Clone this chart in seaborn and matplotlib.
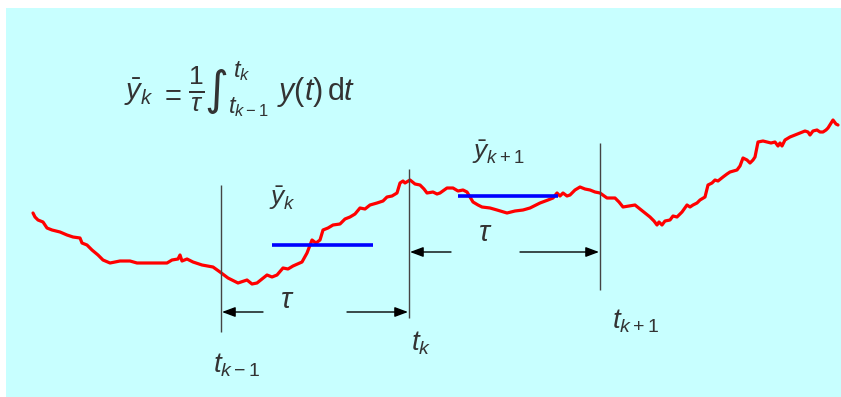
import matplotlib
matplotlib.use("Agg")
import matplotlib.pyplot as plt
import seaborn as sns
import pandas as pd

# curva do sinal y(t) (coordenadas, eixo y invertido)
curve_t = [33, 35, 38, 43, 47, 52, 60, 67, 73, 80, 82, 87, 92, 98, 103, 110, 120, 130, 137, 147,
           153, 160, 167, 172, 178, 180, 182, 187, 193, 202, 213, 220, 228, 238, 247, 252, 257, 262,
           267, 272, 277, 283, 288, 293, 302, 307, 312, 316, 320, 323, 328, 333, 340, 345, 350, 355,
           360, 365, 370, 377, 383, 387, 392, 397, 400, 403, 405, 410, 415, 420, 424, 427, 433, 437,
           440, 447, 453, 458, 463, 467, 473, 478, 482, 490, 497, 507, 515, 523, 530, 540, 548, 553,
           557, 560, 563, 567, 570, 575, 580, 585, 590, 595, 600, 607, 615, 619, 623, 629, 635, 640,
           645, 650, 654, 657, 659, 662, 665, 670, 673, 677, 682, 687, 690, 693, 697, 700, 705, 708,
           712, 715, 718, 723, 727, 730, 737, 740, 743, 747, 750, 753, 755, 758, 763, 767, 771, 775,
           778, 780, 782, 785, 790, 795, 800, 805, 808, 810, 813, 817, 820, 823, 826, 828, 833, 836,
           838]
curve_y = [213, 217, 220, 222, 228, 230, 232, 235, 237, 238, 243, 245, 250, 255, 260, 263, 261, 261, 263, 263,
           263, 263, 263, 260, 259, 255, 261, 259, 262, 265, 267, 272, 278, 283, 280, 284, 283, 279,
           275, 277, 275, 268, 269, 266, 262, 253, 240, 243, 240, 230, 228, 225, 224, 219, 217, 214,
           208, 209, 205, 203, 201, 197, 196, 193, 183, 181, 183, 180, 184, 185, 189, 193, 192, 194,
           193, 188, 188, 191, 190, 192, 202, 205, 207, 208, 210, 213, 211, 210, 208, 203, 200, 198,
           193, 196, 193, 196, 195, 190, 187, 189, 190, 192, 193, 198, 198, 202, 207, 206, 205, 209,
           213, 217, 221, 225, 222, 225, 221, 220, 216, 217, 212, 205, 207, 205, 203, 200, 197, 185,
           183, 180, 181, 177, 174, 172, 170, 166, 158, 160, 163, 160, 157, 142, 141, 142, 143, 142,
           146, 143, 146, 140, 137, 135, 133, 131, 132, 135, 131, 130, 132, 132, 130, 128, 120, 124,
           125]

# instantes de amostragem e extensao das linhas verticais
sample_t = [221, 409, 600]
sample_top = [185, 169, 143]
sample_bottom = [332, 318, 290]
sample_labels = [r"$t_{k-1}$", r"$t_k$", r"$t_{k+1}$"]
label_pos = [(237, 365), (421, 343), (636, 321)]

# medias (barras azuis)
mean_start = [272, 458]
mean_end = [373, 558]
mean_value = [245, 196]
mean_labels = [r"$\bar{y}_k$", r"$\bar{y}_{k+1}$"]
mean_label_pos = [(282, 198), (498, 152)]

# setas do intervalo tau
tau_y = [312, 252]
tau_label_pos = [(287, 300), (485, 233)]

# formula (pedacos, para controlar o espacamento)
formula_parts = [
    (r"$\bar{y}_k$", 124, 92, 21, "left"),
    (r"$=$", 171, 95, 21, "center"),
    (r"$\frac{1}{\tau}$", 196, 89, 27, "center"),
    (r"$t_k$", 233, 71, 17, "left"),
    (r"$t_{k-1}$", 228, 107, 17, "left"),
    (r"$y(t)\,\mathrm{d}t$", 277, 92, 22, "left"),
]
integral_pos = (216, 91)

sns.set_style("white")
plt.rcParams["font.family"] = ["Liberation Sans", "DejaVu Sans"]
plt.rcParams["mathtext.fontset"] = "custom"
plt.rcParams["mathtext.rm"] = "Liberation Sans"
plt.rcParams["mathtext.it"] = "Liberation Sans:italic"
plt.rcParams["mathtext.bf"] = "Liberation Sans:bold"

txt_color = "#333333"

fig = plt.figure(figsize=(8.41, 3.97), dpi=100)
ax = fig.add_axes([6 / 841, 0, 835 / 841, 389 / 397])
ax.set_facecolor("#C8FFFF")

df = pd.DataFrame({"t": curve_t, "y": curve_y})
sns.lineplot(data=df, x="t", y="y", color="#FF0000", lw=2.3, ax=ax, sort=False)

ax.hlines(mean_value, mean_start, mean_end, color="#0000FF", lw=2.6, zorder=3)

ax.vlines(sample_t, sample_top, sample_bottom, color="#444444", lw=1.0, zorder=2)

for lab, (lx, ly) in zip(sample_labels, label_pos):
    ax.text(lx, ly, lab, fontsize=20, color=txt_color, ha="center", va="center")

for lab, (lx, ly) in zip(mean_labels, mean_label_pos):
    ax.text(lx, ly, lab, fontsize=19, color=txt_color, ha="center", va="center")

arrow_kw = dict(arrowstyle="-|>,head_length=0.8,head_width=0.3", color="black", lw=1.0,
                shrinkA=0, shrinkB=0)
for i in range(2):
    left, right = sample_t[i], sample_t[i + 1]
    ax.annotate("", xy=(left + 1, tau_y[i]), xytext=(left + 42, tau_y[i]), arrowprops=arrow_kw)
    ax.annotate("", xy=(right - 1, tau_y[i]), xytext=(right - 62 + (i * -18), tau_y[i]), arrowprops=arrow_kw)
    ax.text(tau_label_pos[i][0], tau_label_pos[i][1], r"$\tau$", fontsize=21, color=txt_color,
            ha="center", va="center")

for txt, fx, fy, fs, ha in formula_parts:
    ax.text(fx, fy, txt, fontsize=fs, color=txt_color, ha=ha, va="center")
ax.text(integral_pos[0], integral_pos[1], "\u222b", fontsize=33, color=txt_color,
        ha="center", va="center", family="DejaVu Sans")

ax.set_xlim(6, 841)
ax.set_ylim(397, 8)
ax.set_xlabel("")
ax.set_ylabel("")
ax.set_xticks([])
ax.set_yticks([])
for s in ax.spines.values():
    s.set_visible(False)

fig.savefig("out.png", dpi=100, facecolor="white")
